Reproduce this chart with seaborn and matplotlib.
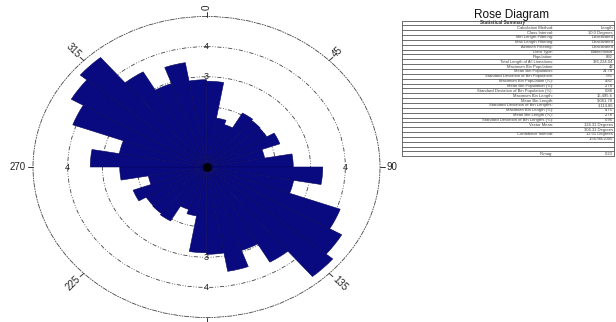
import numpy as np
import matplotlib
matplotlib.use("Agg")
import matplotlib.pyplot as plt
import seaborn as sns

# Length-weighted class percentages for 10-degree classes from 0 to 180.
# The lineations are bidirectional, so 180-360 repeats the same classes.
bin_start_deg = list(range(0, 180, 10))
bin_percent = [2.85, 1.65, 1.50, 2.07, 2.02, 2.00, 2.25, 1.70, 2.50,
               3.35, 2.55, 4.10, 4.50, 4.75, 3.65, 2.95, 3.52, 2.90]

ring_values = [1, 2, 3, 4]
# (direction, ring) pairs where the ring value is printed
ring_label_dirs = [0, 0, 180, 180, 90, 270]
ring_label_vals = [3, 4, 3, 4, 4, 4]
azimuth_ticks = [0, 45, 90, 135, 180, 225, 270, 315]
# the 180 label falls below the lower figure edge, only its tick shows
azimuth_labels = ["0", "45", "90", "135", "", "225", "270", "315"]

chart_title = "Rose Diagram"
summary_header = "Statistical Summary"
total_length = 326224.04
population = 892

# Full circle of classes (bidirectional mirror)
starts = np.array(bin_start_deg + [s + 180 for s in bin_start_deg], dtype=float)
percents = np.array(bin_percent + bin_percent, dtype=float)
n_bins = len(percents)

max_pct = percents.max()
mean_pct = 100.0 / n_bins
std_pct = percents.std()

summary_labels = [
    "Calculation Method:", "Class Interval:", "Min Length Filtering:",
    "Max Length Filtering:", "Azimuth Filtering:", "Data Type:",
    "Population:", "Total Length of All Lineations:",
    "Maximum Bin Population:", "Mean Bin Population:",
    "Standard Deviation of Bin Population:", "Maximum Bin Population (%):",
    "Mean Bin Population (%):", "Standard Deviation of Bin Population (%):",
    "Maximum Bin Length:", "Mean Bin Length:",
    "Standard Deviation of Bin Lengths:", "Maximum Bin Length (%):",
    "Mean Bin Length (%):", "Standard Deviation of Bin Lengths (%):",
    "Vector Mean:", "", "Confidence Interval:", "", "", "", "R-mag:",
]
summary_values = [
    "Length", "10.0 Degrees", "Deactivated", "Deactivated", "Deactivated",
    "Bidirectional", f"{population}", f"{total_length:,.2f}",
    "43", f"{population / n_bins:.2f}", "7.85", "4.82", "2.78", "0.88",
    f"{max_pct * total_length / 100:,.1f}", f"{total_length / n_bins:,.2f}",
    f"{std_pct * total_length / 100:,.2f}", f"{max_pct:.2f}",
    f"{mean_pct:.2f}", f"{std_pct:.2f}",
    "124.31 Degrees", "304.31 Degrees", "12.01 Degrees", "1.5678E+005",
    "", "", "0.23",
]

sns.set_theme(style="white")
plt.rcParams["font.family"] = ["Liberation Sans", "DejaVu Sans"]

navy = "#0a0a80"
ring_style = (0, (5, 2, 1, 2, 1, 2))

fig = plt.figure(figsize=(6.16, 3.22), dpi=100)
fig.patch.set_facecolor("white")

# ---- rose diagram (stretched polar axes) ----
ax = fig.add_axes([33 / 616, 4.5 / 322, 347 / 616, 301 / 322], projection="polar")
ax.set_aspect("auto")
ax.set_theta_zero_location("N")
ax.set_theta_direction(-1)
ax.set_facecolor("white")

theta = np.deg2rad(starts + 5)
ax.bar(theta, percents, width=np.deg2rad(10), bottom=0, align="center",
       color=navy, edgecolor="#05055e", linewidth=0.4, zorder=3)
ax.scatter([0], [0], s=28, color="black", zorder=5)

ax.set_ylim(0, 5)
ax.set_rgrids(ring_values, labels=[""] * len(ring_values))
ax.yaxis.grid(True, color="#444444", linestyle=ring_style, linewidth=0.6)
ax.xaxis.grid(False)
ax.spines["polar"].set_linestyle(ring_style)
ax.spines["polar"].set_linewidth(0.6)
ax.spines["polar"].set_color("#444444")

ax.set_xticks(np.deg2rad(azimuth_ticks))
ax.set_xticklabels([""] * len(azimuth_ticks))

# outward tick marks and radially oriented azimuth labels
r_max = 5.0
for az, lab in zip(azimuth_ticks, azimuth_labels):
    th = np.deg2rad(az)
    ax.plot([th, th], [r_max, r_max + 0.15], color="#333333", lw=0.7,
            clip_on=False, zorder=4)
    if not lab:
        continue
    rot = 90 - az
    while rot > 90:
        rot -= 180
    while rot < -90:
        rot += 180
    outward = np.array([np.sin(th), np.cos(th)])
    reading = np.array([np.cos(np.deg2rad(rot)), np.sin(np.deg2rad(rot))])
    ha = "left" if outward @ reading > 0 else "right"
    ax.text(th, r_max + 0.2, lab, rotation=rot, rotation_mode="anchor",
            ha=ha, va="center", fontsize=7, color="#222222", clip_on=False)

for d, rv in zip(ring_label_dirs, ring_label_vals):
    ax.text(np.deg2rad(d), rv, str(rv), ha="center", va="center",
            fontsize=6.5, color="#222222", zorder=4)

# ---- statistical summary table ----
tab = fig.add_axes([0, 0, 1, 1])
tab.set_xlim(0, 616)
tab.set_ylim(322, 0)
tab.axis("off")

tab.text(512, 15, chart_title, ha="center", va="center", fontsize=8.5,
         color="#111111")
x_left, x_right, x_lab, x_val = 402, 614, 553, 613
top, row_h = 20.5, 4.85
rows = [(summary_header, "")] + list(zip(summary_labels, summary_values))
for i, (lab, val) in enumerate(rows):
    yc = top + (i + 0.5) * row_h
    if i == 0:
        tab.text(503, yc, lab, ha="center", va="center", fontsize=3.3,
                 fontweight="bold", color="#333333")
    else:
        tab.text(x_lab, yc, lab, ha="right", va="center", fontsize=3,
                 color="#444444")
        tab.text(x_val, yc, val, ha="right", va="center", fontsize=3,
                 color="#444444")
    tab.plot([x_left, x_right], [top + i * row_h] * 2, color="#555555", lw=0.6)
bottom = top + len(rows) * row_h
tab.plot([x_left, x_right], [bottom, bottom], color="#555555", lw=0.6)
tab.plot([x_left, x_left], [top, bottom], color="#555555", lw=0.6)
tab.plot([x_right, x_right], [top, bottom], color="#555555", lw=0.6)

fig.savefig("out.png", dpi=100, facecolor="white")
